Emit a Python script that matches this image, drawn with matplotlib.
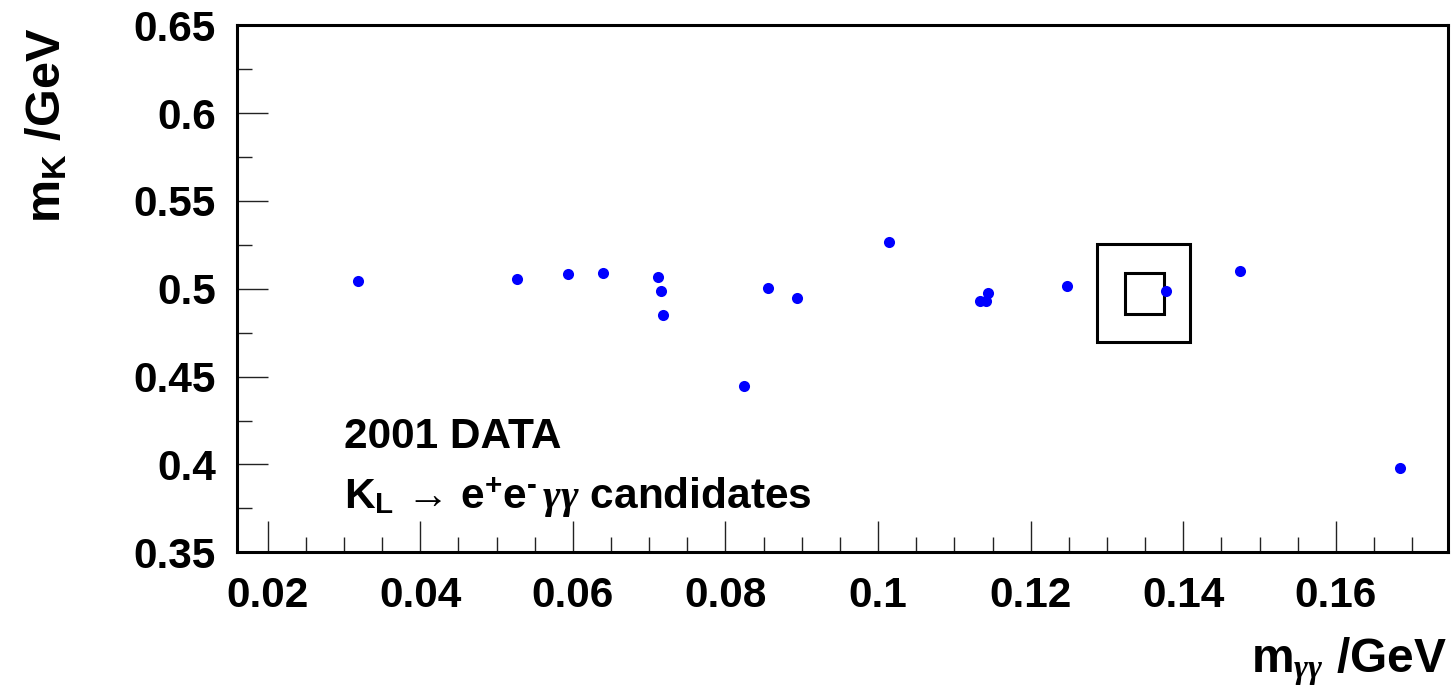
import matplotlib
matplotlib.use('Agg')
import matplotlib.pyplot as plt
from matplotlib.patches import Rectangle
from matplotlib.ticker import MultipleLocator, FormatStrFormatter

plt.rcParams['font.family'] = ['Liberation Sans', 'DejaVu Sans']
plt.rcParams['font.weight'] = 'bold'
plt.rcParams['mathtext.fontset'] = 'custom'
plt.rcParams['mathtext.rm'] = 'Liberation Sans:bold'
plt.rcParams['mathtext.bf'] = 'Liberation Sans:bold'
plt.rcParams['mathtext.sf'] = 'Liberation Sans:bold'
plt.rcParams['mathtext.it'] = 'Liberation Serif:italic'

# candidate events: m_gg, m_K (GeV)
m_gg = [0.0319, 0.0527, 0.0594, 0.0639, 0.0712, 0.0715, 0.0718, 0.0824,
        0.0856, 0.0894, 0.1014, 0.1133, 0.1141, 0.1144, 0.1247, 0.1377,
        0.1474, 0.1684]
m_k = [0.5046, 0.5056, 0.5083, 0.5092, 0.5069, 0.4989, 0.4851, 0.4448,
       0.5003, 0.4949, 0.5266, 0.4933, 0.4933, 0.4974, 0.5014, 0.4988,
       0.5103, 0.3978]

# signal / control boxes: (x_lo, x_hi, y_lo, y_hi)
outer_box = [0.1287, 0.1409, 0.4697, 0.5255]
inner_box = [0.1324, 0.1375, 0.4858, 0.5092]

x_range = [0.01594, 0.17465]
y_range = [0.35, 0.65]

fig = plt.figure(figsize=(14.53, 6.99), dpi=100)
ax = fig.add_axes([0.1629, 0.2099, 0.8334, 0.7539])

ax.plot(m_gg, m_k, 'o', color='#0000ff', ms=8, mew=0, zorder=3)

for b in (outer_box, inner_box):
    ax.add_patch(Rectangle((b[0], b[2]), b[1] - b[0], b[3] - b[2],
                           fill=False, ec='black', lw=2.2, zorder=2))

ax.set_xlim(x_range)
ax.set_ylim(y_range)

ax.xaxis.set_major_locator(MultipleLocator(0.02))
ax.xaxis.set_minor_locator(MultipleLocator(0.005))
ax.yaxis.set_major_locator(MultipleLocator(0.05))
ax.yaxis.set_minor_locator(MultipleLocator(0.025))
ax.xaxis.set_major_formatter(FormatStrFormatter('%g'))
ax.yaxis.set_major_formatter(FormatStrFormatter('%g'))

ax.tick_params(which='both', direction='in', top=False, right=False,
               width=1, color='#222222')
ax.tick_params(which='major', length=22, labelsize=30.5)
ax.tick_params(axis='x', which='major', pad=17)
ax.tick_params(axis='y', which='major', pad=15)
ax.tick_params(which='minor', length=11)
for lab in ax.get_xticklabels() + ax.get_yticklabels():
    lab.set_fontweight('bold')
for s in ax.spines.values():
    s.set_linewidth(2.2)

fig.text(1447 / 1453, 1 - 672 / 699, r'm$_{\gamma\gamma}$ /GeV', fontsize=34.5,
         fontweight='bold', ha='right', va='baseline')
fig.text(60 / 1453, 1 - 28 / 699, r'm$_{\mathbf{K}}$ /GeV', fontsize=35,
         fontweight='bold', ha='right', va='baseline', rotation=90,
         rotation_mode='anchor')

fig.text(344 / 1453, 1 - 448 / 699, '2001 DATA', fontsize=30.5,
         fontweight='bold', ha='left', va='baseline')
fig.text(344 / 1453, 1 - 508 / 699,
         r'K$_{\mathbf{L}}\,\rightarrow\,$e$^{\mathbf{+}}$e$^{\text{-}}\,\gamma\gamma$ candidates',
         fontsize=30.5, fontweight='bold', ha='left', va='baseline')

fig.savefig('out.png', dpi=100)
